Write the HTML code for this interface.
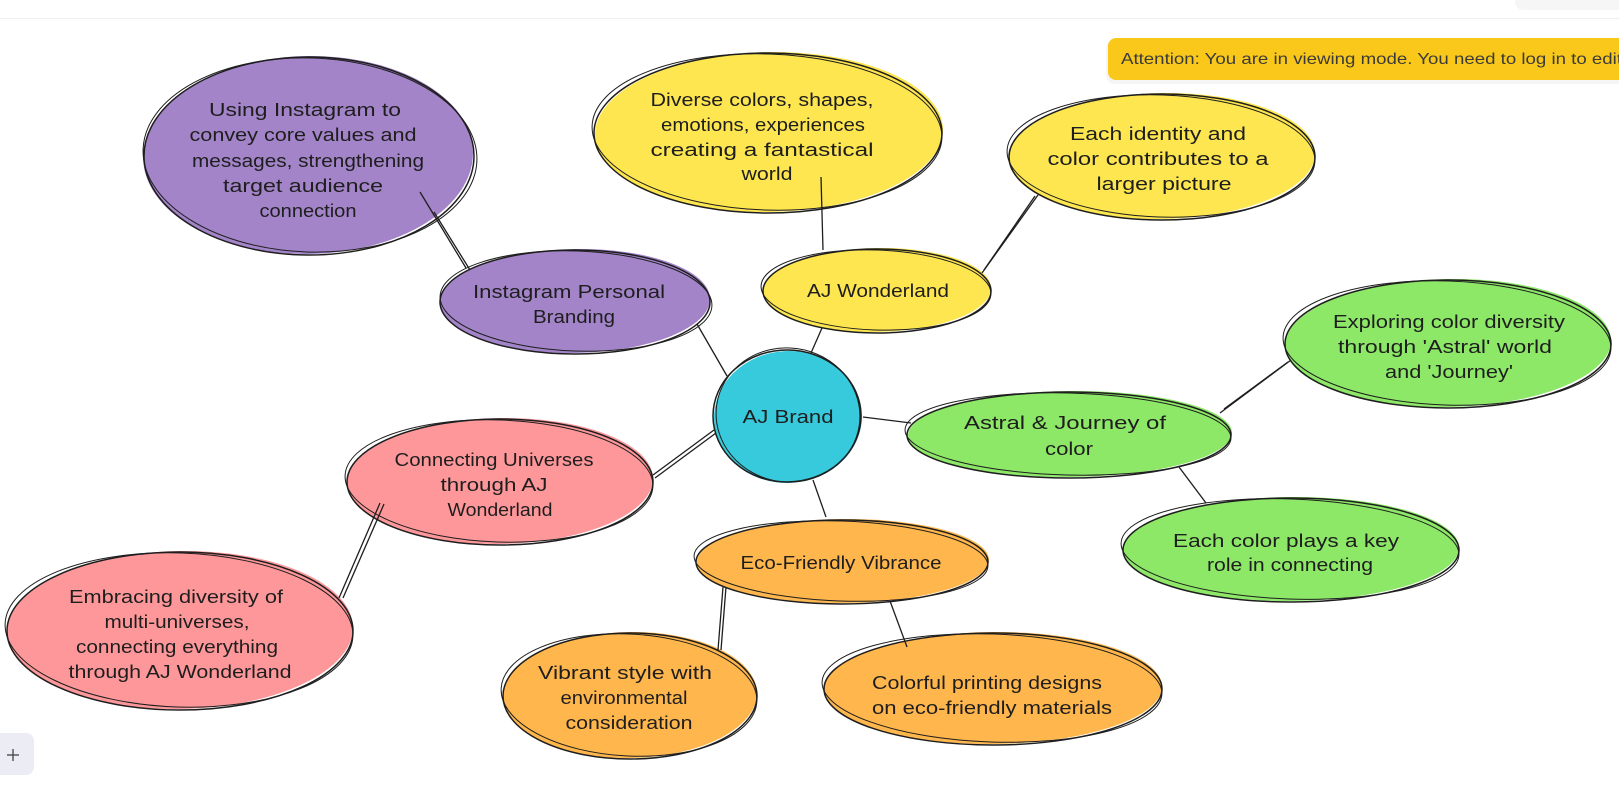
<!DOCTYPE html>
<html><head><meta charset="utf-8">
<style>
html,body{margin:0;padding:0;background:#fff;width:1619px;height:788px;overflow:hidden}
svg{display:block}
.t{font-family:"Liberation Sans",sans-serif;font-size:18px;fill:#1e1e1e;text-anchor:middle;dominant-baseline:central}
.s{fill:none;stroke:#1e1e1e;stroke-width:1.5}
.s2{fill:none;stroke:#1e1e1e;stroke-width:1}
.c{stroke:#1e1e1e;stroke-width:1.3;fill:none}
</style></head><body>
<svg width="1619" height="788" viewBox="0 0 1619 788" xmlns="http://www.w3.org/2000/svg">
<rect x="0" y="0" width="1619" height="788" fill="#fff"/>
<rect x="1515" y="-10" width="120" height="20" rx="8" fill="#f6f6f6"/>
<line x1="0" y1="18.5" x2="1619" y2="18.5" stroke="#efefef" stroke-width="1"/>

<!-- banner -->
<rect x="1106" y="40" width="530" height="44" rx="9" fill="#000" opacity="0.04"/>
<rect x="1108" y="38" width="530" height="42" rx="8" fill="#f9c81a"/>
<text x="1121" y="59.5" font-family="Liberation Sans, sans-serif" font-size="16" fill="#3a3a3a" dominant-baseline="central" textLength="501" lengthAdjust="spacingAndGlyphs">Attention: You are in viewing mode. You need to log in to edit</text>

<!-- N1 purple big -->
<g>
<ellipse cx="308" cy="155" rx="165" ry="99" fill="#a384c9" transform="rotate(-1 308 155)"/>
<ellipse cx="309" cy="156" rx="165" ry="99" class="s"/>
<ellipse cx="310" cy="155" rx="167" ry="97" class="s2" transform="rotate(2 310 155)"/>
<text class="t" x="305" y="110" textLength="192" lengthAdjust="spacingAndGlyphs">Using Instagram to</text>
<text class="t" x="303" y="135" textLength="227" lengthAdjust="spacingAndGlyphs">convey core values and</text>
<text class="t" x="308" y="161" textLength="232" lengthAdjust="spacingAndGlyphs">messages, strengthening</text>
<text class="t" x="303" y="186" textLength="160" lengthAdjust="spacingAndGlyphs">target audience</text>
<text class="t" x="308" y="211" textLength="97" lengthAdjust="spacingAndGlyphs">connection</text>
</g>

<!-- N2 purple small -->
<g>
<ellipse cx="575" cy="301" rx="135" ry="52" fill="#a384c9" transform="rotate(-1 575 301)"/>
<ellipse cx="575" cy="302" rx="135" ry="52" class="s"/>
<ellipse cx="576" cy="301" rx="136" ry="50" class="s2" transform="rotate(2 576 301)"/>
<text class="t" x="569" y="292" textLength="192" lengthAdjust="spacingAndGlyphs">Instagram Personal</text>
<text class="t" x="574" y="317" textLength="82" lengthAdjust="spacingAndGlyphs">Branding</text>
</g>

<!-- N3 yellow big -->
<g>
<ellipse cx="769" cy="132" rx="174" ry="80" fill="#fee650" transform="rotate(-1 769 132)"/>
<ellipse cx="768" cy="133" rx="174" ry="80" class="s"/>
<ellipse cx="767" cy="132" rx="175" ry="78" class="s2" transform="rotate(2 767 132)"/>
<text class="t" x="762" y="100" textLength="223" lengthAdjust="spacingAndGlyphs">Diverse colors, shapes,</text>
<text class="t" x="763" y="125" textLength="204" lengthAdjust="spacingAndGlyphs">emotions, experiences</text>
<text class="t" x="762" y="150" textLength="223" lengthAdjust="spacingAndGlyphs">creating a fantastical</text>
<text class="t" x="767" y="174" textLength="51" lengthAdjust="spacingAndGlyphs">world</text>
</g>

<!-- N4 yellow right -->
<g>
<ellipse cx="1162" cy="156" rx="153" ry="63" fill="#fee650" transform="rotate(-1 1162 156)"/>
<ellipse cx="1162" cy="157" rx="153" ry="63" class="s"/>
<ellipse cx="1161" cy="156" rx="154" ry="61" class="s2" transform="rotate(2 1161 156)"/>
<text class="t" x="1158" y="134" textLength="176" lengthAdjust="spacingAndGlyphs">Each identity and</text>
<text class="t" x="1158" y="159" textLength="221" lengthAdjust="spacingAndGlyphs">color contributes to a</text>
<text class="t" x="1164" y="184" textLength="135" lengthAdjust="spacingAndGlyphs">larger picture</text>
</g>

<!-- N5 AJ Wonderland -->
<g>
<ellipse cx="877" cy="290" rx="114" ry="42" fill="#fee650" transform="rotate(-1 877 290)"/>
<ellipse cx="877" cy="291" rx="114" ry="42" class="s"/>
<ellipse cx="876" cy="290" rx="115" ry="40" class="s2" transform="rotate(2 876 290)"/>
<text class="t" x="878" y="291" textLength="142" lengthAdjust="spacingAndGlyphs">AJ Wonderland</text>
</g>

<!-- N7 green Astral -->
<g>
<ellipse cx="1070" cy="434" rx="162" ry="43" fill="#8de868" transform="rotate(-0.5 1070 434)"/>
<ellipse cx="1069" cy="435" rx="162" ry="43" class="s"/>
<ellipse cx="1068" cy="434" rx="163" ry="41" class="s2" transform="rotate(1.5 1068 434)"/>
<text class="t" x="1065" y="423" textLength="202" lengthAdjust="spacingAndGlyphs">Astral &amp; Journey of</text>
<text class="t" x="1069" y="449" textLength="48" lengthAdjust="spacingAndGlyphs">color</text>
</g>

<!-- N8 green Exploring -->
<g>
<ellipse cx="1448" cy="343" rx="163" ry="64" fill="#8de868" transform="rotate(-1 1448 343)"/>
<ellipse cx="1448" cy="344" rx="163" ry="64" class="s"/>
<ellipse cx="1447" cy="343" rx="164" ry="62" class="s2" transform="rotate(2 1447 343)"/>
<text class="t" x="1449" y="322" textLength="232" lengthAdjust="spacingAndGlyphs">Exploring color diversity</text>
<text class="t" x="1445" y="347" textLength="214" lengthAdjust="spacingAndGlyphs">through 'Astral' world</text>
<text class="t" x="1449" y="372" textLength="128" lengthAdjust="spacingAndGlyphs">and 'Journey'</text>
</g>

<!-- N9 green Each color -->
<g>
<ellipse cx="1291" cy="549" rx="168" ry="52" fill="#8de868" transform="rotate(-0.5 1291 549)"/>
<ellipse cx="1291" cy="550" rx="168" ry="52" class="s"/>
<ellipse cx="1290" cy="549" rx="169" ry="50" class="s2" transform="rotate(2 1290 549)"/>
<text class="t" x="1286" y="541" textLength="226" lengthAdjust="spacingAndGlyphs">Each color plays a key</text>
<text class="t" x="1290" y="565" textLength="166" lengthAdjust="spacingAndGlyphs">role in connecting</text>
</g>

<!-- N10 orange Eco -->
<g>
<ellipse cx="843" cy="561" rx="146" ry="42" fill="#ffb64c" transform="rotate(-0.5 843 561)"/>
<ellipse cx="842" cy="562" rx="146" ry="42" class="s"/>
<ellipse cx="841" cy="561" rx="147" ry="40" class="s2" transform="rotate(2 841 561)"/>
<text class="t" x="841" y="563" textLength="201" lengthAdjust="spacingAndGlyphs">Eco-Friendly Vibrance</text>
</g>

<!-- N11 orange Vibrant -->
<g>
<ellipse cx="630" cy="695" rx="127" ry="63" fill="#ffb64c" transform="rotate(-1 630 695)"/>
<ellipse cx="630" cy="696" rx="127" ry="63" class="s"/>
<ellipse cx="629" cy="695" rx="128" ry="61" class="s2" transform="rotate(3 629 695)"/>
<text class="t" x="625" y="673" textLength="174" lengthAdjust="spacingAndGlyphs">Vibrant style with</text>
<text class="t" x="624" y="698" textLength="127" lengthAdjust="spacingAndGlyphs">environmental</text>
<text class="t" x="629" y="723" textLength="127" lengthAdjust="spacingAndGlyphs">consideration</text>
</g>

<!-- N12 orange Colorful -->
<g>
<ellipse cx="993" cy="688" rx="169" ry="56" fill="#ffb64c" transform="rotate(-0.5 993 688)"/>
<ellipse cx="993" cy="689" rx="169" ry="56" class="s"/>
<ellipse cx="992" cy="688" rx="170" ry="54" class="s2" transform="rotate(2 992 688)"/>
<text class="t" x="987" y="683" textLength="230" lengthAdjust="spacingAndGlyphs">Colorful printing designs</text>
<text class="t" x="992" y="708" textLength="240" lengthAdjust="spacingAndGlyphs">on eco-friendly materials</text>
</g>

<!-- N13 pink Connecting -->
<g>
<ellipse cx="500" cy="481" rx="153" ry="63" fill="#fe979a" transform="rotate(-1 500 481)"/>
<ellipse cx="500" cy="482" rx="153" ry="63" class="s"/>
<ellipse cx="499" cy="481" rx="154" ry="61" class="s2" transform="rotate(2 499 481)"/>
<text class="t" x="494" y="460" textLength="199" lengthAdjust="spacingAndGlyphs">Connecting Universes</text>
<text class="t" x="494" y="485" textLength="107" lengthAdjust="spacingAndGlyphs">through AJ</text>
<text class="t" x="500" y="510" textLength="105" lengthAdjust="spacingAndGlyphs">Wonderland</text>
</g>

<!-- N14 pink Embracing -->
<g>
<ellipse cx="180" cy="630" rx="173" ry="79" fill="#fe979a" transform="rotate(-1 180 630)"/>
<ellipse cx="180" cy="631" rx="173" ry="79" class="s"/>
<ellipse cx="179" cy="630" rx="174" ry="77" class="s2" transform="rotate(2 179 630)"/>
<text class="t" x="176" y="597" textLength="214" lengthAdjust="spacingAndGlyphs">Embracing diversity of</text>
<text class="t" x="177" y="622" textLength="145" lengthAdjust="spacingAndGlyphs">multi-universes,</text>
<text class="t" x="177" y="647" textLength="202" lengthAdjust="spacingAndGlyphs">connecting everything</text>
<text class="t" x="180" y="672" textLength="223" lengthAdjust="spacingAndGlyphs">through AJ Wonderland</text>
</g>

<!-- N6 center cyan -->
<g>
<ellipse cx="788" cy="417" rx="74" ry="66" fill="#36cadc" transform="rotate(-3 788 417)"/>
<ellipse cx="787" cy="416" rx="74" ry="66" class="s"/>
<ellipse cx="788" cy="415" rx="72" ry="67" class="s2" transform="rotate(8 788 415)"/>
<text class="t" x="788" y="417" textLength="91" lengthAdjust="spacingAndGlyphs">AJ Brand</text>
</g>

<!-- connectors -->
<g class="c">
<line x1="420" y1="192" x2="466" y2="268"/>
<line x1="434" y1="212" x2="470" y2="270"/>
<line x1="697" y1="324" x2="727" y2="376"/>
<line x1="821" y1="177" x2="823" y2="250"/>
<line x1="1038" y1="195" x2="982" y2="273"/>
<line x1="1035" y1="196" x2="984" y2="270"/>
<line x1="822" y1="328" x2="811" y2="353"/>
<line x1="863" y1="417" x2="911" y2="423"/>
<line x1="1220" y1="413" x2="1291" y2="360"/>
<line x1="1224" y1="409" x2="1288" y2="362"/>
<line x1="1179" y1="467" x2="1206" y2="503"/>
<line x1="813" y1="480" x2="826" y2="517"/>
<line x1="723" y1="587" x2="718" y2="650"/>
<line x1="726" y1="587" x2="721" y2="650"/>
<line x1="890" y1="601" x2="907" y2="647"/>
<line x1="714" y1="430" x2="653" y2="475"/>
<line x1="716" y1="433" x2="655" y2="478"/>
<line x1="380" y1="503" x2="339" y2="598"/>
<line x1="384" y1="504" x2="343" y2="598"/>
</g>

<!-- plus button -->
<rect x="-10" y="733" width="44" height="42" rx="8" fill="#ececf4"/>
<line x1="7" y1="755" x2="19" y2="755" stroke="#444" stroke-width="1.3"/>
<line x1="13" y1="749" x2="13" y2="761" stroke="#444" stroke-width="1.3"/>
</svg>
</body></html>
